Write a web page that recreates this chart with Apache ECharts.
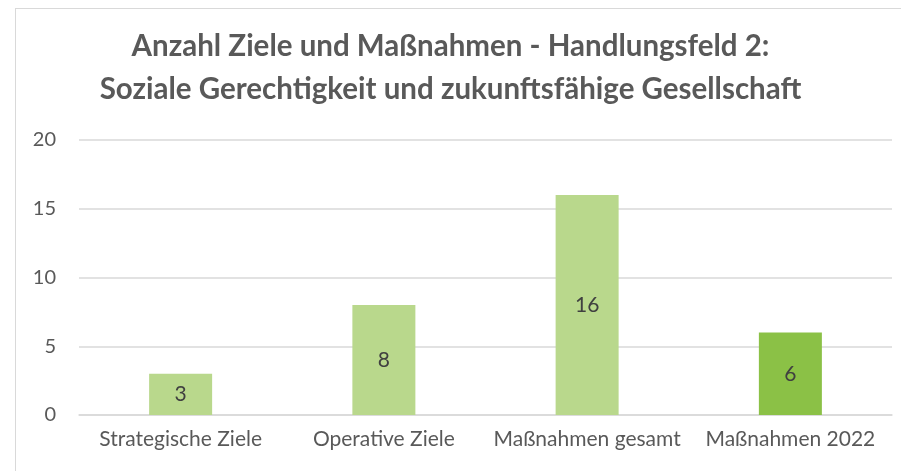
<!DOCTYPE html>
<html>
<head>
<meta charset="utf-8">
<script src="https://cdn.jsdelivr.net/npm/echarts@6/dist/echarts.min.js"></script>
<style>
  html, body { margin: 0; padding: 0; background: #fff; }
  #frame { position: absolute; left: 15px; top: 8px; width: 900px; height: 470px; border-left: 1px solid #d9d9d9; border-top: 1px solid #d9d9d9; }
  #chart { position: absolute; left: 0; top: 0; width: 901px; height: 471px; }
</style>
</head>
<body>
<div id="frame"></div>
<div id="chart"></div>
<script>
// Daten aus dem Diagramm
const categories = ['Strategische Ziele', 'Operative Ziele', 'Maßnahmen gesamt', 'Maßnahmen 2022']
const values = [3, 8, 16, 6]
const barColors = ['#b9d88c', '#b9d88c', '#b9d88c', '#8bc146']
const titleLines = ['Anzahl Ziele und Maßnahmen - Handlungsfeld 2:', 'Soziale Gerechtigkeit und zukunftsfähige Gesellschaft']

const font = 'Lato, "Open Sans", sans-serif'
const chart = echarts.init(document.getElementById('chart'))

chart.setOption({
    animation: false,
    title: {
        text: titleLines.join('\n'),
        left: 'center',
        top: 20,
        textStyle: {
            fontFamily: font,
            fontSize: 29.5,
            fontWeight: 'bold',
            color: '#595959',
            lineHeight: 43
        }
    },
    grid: { left: 79, right: 9, top: 140, bottom: 56 },
    xAxis: {
        type: 'category',
        data: categories,
        axisTick: { show: false },
        axisLine: { lineStyle: { color: '#d9d9d9', width: 1.5 } },
        axisLabel: { interval: 0, hideOverlap: false, fontFamily: font, fontSize: 21, color: '#595959', margin: 14 }
    },
    yAxis: {
        type: 'value',
        min: 0,
        max: 20,
        interval: 5,
        splitLine: { lineStyle: { color: '#d9d9d9', width: 1.5 } },
        axisLabel: { fontFamily: font, fontSize: 20, color: '#595959', margin: 23 }
    },
    series: [{
        type: 'bar',
        barWidth: '31%',
        data: values.map((v, i) => ({ value: v, itemStyle: { color: barColors[i] } })),
        label: {
            show: true,
            position: 'inside',
            fontFamily: font,
            fontSize: 21,
            color: '#404040'
        }
    }]
})
</script>
</body>
</html>
